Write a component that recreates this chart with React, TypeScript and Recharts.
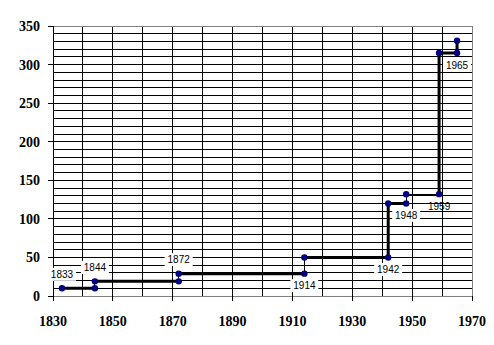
import { LineChart, Line, XAxis, YAxis, ReferenceLine } from "recharts";

// step points, in drawing order
const years = [1833, 1844, 1844, 1872, 1872, 1914, 1914, 1942, 1942, 1948, 1948, 1959, 1959, 1965, 1965];
const values = [10, 10, 19, 19, 29, 29, 50, 50, 120, 120, 132, 132, 315, 315, 331];

// which points carry a year label
const labelRows = [0, 2, 4, 5, 7, 9, 11, 13];
const labelTexts = ["1833", "1844", "1872", "1914", "1942", "1948", "1959", "1965"];

// segments drawn with the heavy line (point index ranges)
const thickRuns = [
  [0, 1],
  [2, 3],
  [4, 5],
  [6, 9],
  [11, 14],
];

const xTicks = [1830, 1850, 1870, 1890, 1910, 1930, 1950, 1970];
const yTicks = [0, 50, 100, 150, 200, 250, 300, 350];
const xGrid = [1840, 1850, 1860, 1870, 1880, 1890, 1900, 1910, 1920, 1930, 1940, 1950, 1960];
const yGrid = [
  10, 20, 30, 40, 50, 60, 70, 80, 90, 100, 110, 120, 130, 140, 150, 160, 170,
  180, 190, 200, 210, 220, 230, 240, 250, 260, 270, 280, 290, 300, 310, 320,
  330, 340,
];

const steps = years.map((year, i) => ({ year, value: values[i] }));
const thickData = thickRuns.flatMap(([a, b]) => [
  ...steps.slice(a, b + 1),
  { year: steps[b].year, value: null },
]);

const labelsAbove = ["1833", "1844", "1872"];
const labelsNoBox = ["1959"];

const tickFont = {
  fontFamily: "'Liberation Serif', 'Times New Roman', serif",
  fontSize: 14,
  fontWeight: "bold",
  fill: "#000",
};

const renderDot = (p: any) => (
  <circle key={`d${p.index}`} cx={p.cx} cy={p.cy} r={3.2} fill="#000080" />
);

const renderLabel = (p: any) => {
  const k = labelRows.indexOf(p.index);
  if (k < 0) return null;
  const text = labelTexts[k];
  const cy = labelsAbove.includes(text) ? p.y - 14 : p.y + 12;
  return (
    <g key={`l${p.index}`}>
      {!labelsNoBox.includes(text) && (
        <rect x={p.x - 14} y={cy - 6.5} width={28} height={13} fill="#fff" />
      )}
      <text
        x={p.x}
        y={cy}
        dy="0.35em"
        textAnchor="middle"
        fontSize={10}
        fontFamily="'Liberation Sans', Arial, sans-serif"
        fill="#000"
      >
        {text}
      </text>
    </g>
  );
};

export default function App() {
  return (
    <div style={{ position: "absolute", left: 0, top: 0, background: "#fff" }}>
      <LineChart
        width={494}
        height={345}
        margin={{ top: 26, right: 22, bottom: 0, left: 0 }}
      >
        <XAxis
          type="number"
          dataKey="year"
          domain={[1830, 1970]}
          ticks={xTicks}
          height={49}
          tickSize={5}
          tickMargin={15}
          axisLine={{ stroke: "#808080", shapeRendering: "crispEdges" }}
          tickLine={{ stroke: "#000", shapeRendering: "crispEdges" }}
          tick={tickFont}
        />
        <YAxis
          type="number"
          dataKey="value"
          domain={[0, 350]}
          ticks={yTicks}
          width={53}
          tickSize={5}
          tickMargin={8}
          axisLine={{ stroke: "#000", shapeRendering: "crispEdges" }}
          tickLine={{ stroke: "#000", shapeRendering: "crispEdges" }}
          tick={tickFont}
        />
        {yGrid.map((v) => (
          <ReferenceLine key={`y${v}`} y={v} stroke="#000" shapeRendering="crispEdges" />
        ))}
        {xGrid.map((v) => (
          <ReferenceLine key={`x${v}`} x={v} stroke="#000" shapeRendering="crispEdges" />
        ))}
        <ReferenceLine y={350} stroke="#808080" shapeRendering="crispEdges" />
        <ReferenceLine x={1970} stroke="#808080" shapeRendering="crispEdges" />
        <Line
          data={thickData}
          dataKey="value"
          type="linear"
          stroke="#000"
          strokeWidth={3}
          dot={false}
          activeDot={false}
          isAnimationActive={false}
        />
        <Line
          data={steps}
          dataKey="value"
          type="linear"
          stroke="#000"
          strokeWidth={1}
          shapeRendering="crispEdges"
          dot={renderDot}
          activeDot={false}
          label={renderLabel}
          isAnimationActive={false}
        />
      </LineChart>
    </div>
  );
}
